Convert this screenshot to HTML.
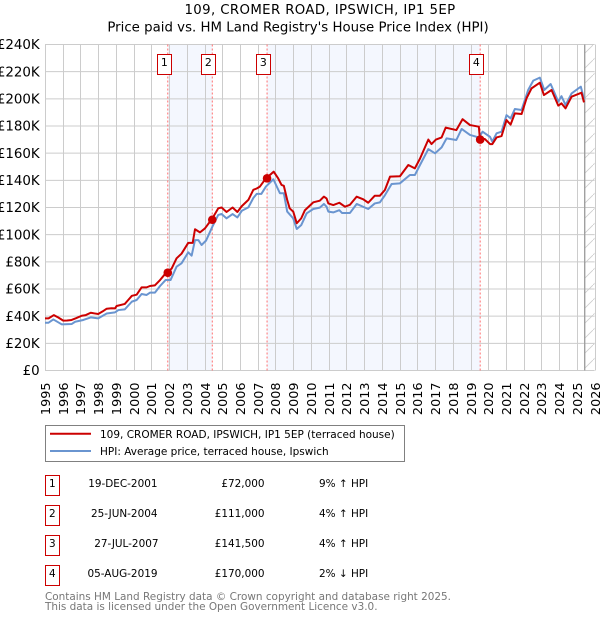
<!DOCTYPE html>
<html>
<head>
<meta charset="utf-8">
<style>
html,body{margin:0;padding:0;background:#fff;}
svg{display:block;font-family:"DejaVu Sans","Liberation Sans",sans-serif;}
</style>
</head>
<body>
<svg id="chart" xmlns="http://www.w3.org/2000/svg" width="600" height="620" viewBox="0 0 600 620">
<defs>
<pattern id="hatch" patternUnits="userSpaceOnUse" width="15" height="15" patternTransform="translate(8,0)">
<path d="M-1 16L16 -1" stroke="#cccccc" stroke-width="0.8" fill="none"/>
</pattern>
</defs>
<text x="320" y="14" text-anchor="middle" font-size="13.3" letter-spacing="0.38" fill="#000">109, CROMER ROAD, IPSWICH, IP1 5EP</text>
<text x="298" y="31.5" text-anchor="middle" font-size="13.3" letter-spacing="0.02" fill="#000">Price paid vs. HM Land Registry's House Price Index (HPI)</text>
<g id="plot"></g>
<g>
<rect x="45.5" y="425.5" width="359" height="36" fill="#fff" stroke="#808080" stroke-width="1"/>
<line x1="50" x2="91" y1="433.7" y2="433.7" stroke="#cc0000" stroke-width="2"/>
<text x="100" y="438" font-size="10.5" fill="#000">109, CROMER ROAD, IPSWICH, IP1 5EP (terraced house)</text>
<line x1="50" x2="91" y1="451" y2="451" stroke="#6a95d0" stroke-width="2"/>
<text x="100" y="455" font-size="10.5" fill="#000">HPI: Average price, terraced house, Ipswich</text>
</g>
<g font-size="10.45" fill="#000">
<g>
<rect x="45.5" y="475.5" width="14" height="20" fill="#fff" stroke="#cc0000" stroke-width="1"/>
<text x="52.3" y="487" text-anchor="middle">1</text>
<text x="157.5" y="487" text-anchor="end">19-DEC-2001</text>
<text x="264.5" y="487" text-anchor="end">£72,000</text>
<text x="319" y="487">9% ↑ HPI</text>
</g>
<g>
<rect x="45.5" y="505.5" width="14" height="20" fill="#fff" stroke="#cc0000" stroke-width="1"/>
<text x="52.3" y="517" text-anchor="middle">2</text>
<text x="157.5" y="517" text-anchor="end">25-JUN-2004</text>
<text x="264.5" y="517" text-anchor="end">£111,000</text>
<text x="319" y="517">4% ↑ HPI</text>
</g>
<g>
<rect x="45.5" y="535.5" width="14" height="20" fill="#fff" stroke="#cc0000" stroke-width="1"/>
<text x="52.3" y="547" text-anchor="middle">3</text>
<text x="158.5" y="547" text-anchor="end">27-JUL-2007</text>
<text x="264.5" y="547" text-anchor="end">£141,500</text>
<text x="319" y="547">4% ↑ HPI</text>
</g>
<g>
<rect x="45.5" y="565.5" width="14" height="20" fill="#fff" stroke="#cc0000" stroke-width="1"/>
<text x="52.3" y="577" text-anchor="middle">4</text>
<text x="157.5" y="577" text-anchor="end">05-AUG-2019</text>
<text x="264.5" y="577" text-anchor="end">£170,000</text>
<text x="319" y="577">2% ↓ HPI</text>
</g>
</g>
<text x="45" y="600" font-size="10.45" fill="#777777">Contains HM Land Registry data © Crown copyright and database right 2025.</text>
<text x="45" y="610" font-size="10.45" fill="#777777">This data is licensed under the Open Government Licence v3.0.</text>
</svg>
<script>
const yearTicks = [1995,1996,1997,1998,1999,2000,2001,2002,2003,2004,2005,2006,2007,2008,2009,2010,2011,2012,2013,2014,2015,2016,2017,2018,2019,2020,2021,2022,2023,2024,2025,2026];
const valueTicks = [0,20,40,60,80,100,120,140,160,180,200,220,240];
const saleYears = [2001.97,2004.48,2007.57,2019.59];
const saleValues = [72,111,141.5,170];
const saleLabels = ['1','2','3','4'];
const priceYears = [1995,1995.2,1995.5,1995.75,1996.03,1996.25,1996.5,1996.75,1997.07,1997.3,1997.58,1997.8,1998,1998.25,1998.48,1998.75,1998.95,1999.04,1999.5,1999.7,1999.9,2000.17,2000.45,2000.73,2000.92,2001.2,2001.49,2001.77,2001.92,2002.14,2002.42,2002.7,2003.08,2003.33,2003.46,2003.74,2004.02,2004.44,2004.77,2004.96,2005.24,2005.58,2005.85,2006.1,2006.47,2006.75,2006.94,2007.12,2007.46,2007.78,2007.9,2008.15,2008.34,2008.47,2008.66,2008.8,2009,2009.2,2009.45,2009.66,2010.13,2010.5,2010.73,2010.88,2010.98,2011.26,2011.6,2011.92,2012.2,2012.58,2012.95,2013.23,2013.6,2013.89,2014.17,2014.46,2015.02,2015.49,2015.86,2016.15,2016.62,2016.8,2017.05,2017.37,2017.6,2018.2,2018.55,2018.97,2019.47,2019.53,2019.81,2020.1,2020.23,2020.47,2020.75,2021.03,2021.26,2021.5,2021.88,2022.16,2022.44,2022.91,2023.14,2023.57,2023.95,2024.13,2024.36,2024.7,2025.26,2025.4];
const priceValues = [38.4,38.4,40.8,39,36.7,36.8,37.2,38.5,40.3,40.8,42.5,42,41.6,43.5,45.5,45.8,45.7,47.5,49,52,55,55.8,61.2,61.2,62.2,62.7,66.6,71,72.7,75,82.6,86,94,94,104,101.7,104.6,112,119.4,120,116.7,120,116.7,121,125.6,133,134,135.4,141.5,145,146.4,141.5,136.6,136,125.6,119.4,117,108.4,112,118,123.8,125,128,126.7,123,121.8,123.5,120.6,122,128,126,123.5,128.7,128.7,132.9,142.7,143,151.3,148.8,156,170,166.7,170,171.6,178.8,177,185,180.7,179.5,170.4,170.4,166.7,166.7,171.6,172.6,184.4,181,189.3,188.8,200.4,207.7,211.9,202.8,206.5,195,196.7,193,201.6,204.5,197.4];
const hpiYears = [1995,1995.2,1995.47,1995.94,1996.5,1996.7,1997.16,1997.58,1998,1998.48,1998.95,1999.14,1999.5,1999.9,2000.17,2000.45,2000.73,2000.92,2001.2,2001.49,2001.8,2002.08,2002.42,2002.7,2003.08,2003.27,2003.46,2003.65,2003.83,2004.08,2004.44,2004.77,2004.96,2005.24,2005.58,2005.85,2006.1,2006.47,2006.75,2006.94,2007.2,2007.46,2007.88,2008.25,2008.47,2008.66,2009,2009.2,2009.45,2009.76,2010.13,2010.5,2010.73,2010.88,2010.98,2011.26,2011.6,2011.75,2012.2,2012.58,2013.23,2013.6,2013.89,2014.17,2014.55,2015.02,2015.58,2015.86,2016.15,2016.62,2017,2017.37,2017.65,2018.2,2018.5,2018.97,2019.47,2019.68,2020.1,2020.23,2020.47,2020.75,2021.03,2021.26,2021.5,2021.88,2022.25,2022.54,2022.91,2023.16,2023.52,2023.95,2024.13,2024.36,2024.7,2025.22,2025.4];
const hpiValues = [35.2,35.2,37.6,34,34.2,35.9,37.2,39.1,38.4,42,42.8,44.5,45,50.7,51.9,56.3,55.6,57.3,57.3,62.2,66.6,66.6,76.4,78.9,87,84.5,96,96,92.4,95.6,105.9,114.5,115.2,112,115.2,112.7,117.6,120.1,127,130,130,135.4,140.8,130.5,130.5,117,112,104.2,107,115.7,118.9,119.9,122.6,120.6,117,116.4,118,116,116,122.6,118.9,123,123.8,129,137.3,137.8,143.9,143.9,151.3,163,159.9,164.3,170.9,169.7,177.8,173.4,171.6,175.8,172,168.5,174.6,175.8,188,185.6,192.5,191.8,206.5,213.4,215.6,206.5,210.9,197.9,202,195.4,204,209,200];

const NS = 'http://www.w3.org/2000/svg';
const plot = document.getElementById('plot');
const xLeft = 45, pxPerYear = 17.73, yZero = 370.5, pxPerK = 1.3583;
const markOffset = -0.8;
const lastDataYear = 2025.44;
function xAxis(year) { return xLeft + (year - 1995) * pxPerYear; }
function yAxis(value) { return yZero - value * pxPerK; }
function make(tag, attrs, text) {
  const el = document.createElementNS(NS, tag);
  for (const k in attrs) el.setAttribute(k, attrs[k]);
  if (text !== undefined) el.textContent = text;
  plot.appendChild(el);
  return el;
}
function linePath(xs, ys) {
  return xs.map(function (yr, i) { return (i ? 'L' : 'M') + xAxis(yr).toFixed(2) + ' ' + yAxis(ys[i]).toFixed(2); }).join('');
}

// alternating shaded spans between sales
[[0, 1], [2, 3]].forEach(function (pair, i) {
  const x0 = xAxis(saleYears[pair[0]]) + markOffset;
  const x1 = xAxis(saleYears[pair[1]]) + markOffset;
  const band = make('rect', { x: x0, y: yAxis(240), width: x1 - x0, height: yAxis(0) - yAxis(240), fill: '#f4f7fe' });
  
  
});

// forecast hatch
const hatchX = xAxis(lastDataYear);
const hatchRect = make('rect', { x: hatchX, y: yAxis(240), width: xAxis(2026) - hatchX, height: yAxis(0) - yAxis(240), fill: 'url(#hatch)' });



// grid and tick labels
valueTicks.forEach(function (v) {
  const g = make('line', { x1: xLeft, x2: xAxis(2026), y1: yAxis(v), y2: yAxis(v), stroke: '#cccccc', 'stroke-width': 1 });
  
  
  const t = make('text', { x: 39.7, y: yAxis(v) + 4.7, 'text-anchor': 'end', 'font-size': 13.4, fill: '#000' }, v === 0 ? '£0' : '£' + v + 'K');
  
  
});
yearTicks.forEach(function (yr) {
  const px = Math.round(xAxis(yr)) + 0.5;
  const g = make('line', { x1: px, x2: px, y1: yAxis(240), y2: yAxis(0), stroke: '#cccccc', 'stroke-width': 1 });
  
  
  const t = make('text', { transform: 'translate(' + (px + 4.5) + ',382.5) rotate(-90)', 'text-anchor': 'end', 'font-size': 12.8, fill: '#000' }, String(yr));
  
  
});

// last data divider
const divider = make('line', { x1: hatchX, x2: hatchX, y1: yAxis(240), y2: yAxis(0), stroke: '#a0a0a0', 'stroke-width': 1.4 });



// sale guide lines
saleYears.forEach(function (yr) {
  const px = xAxis(yr) + markOffset;
  const d = make('line', { x1: px, x2: px, y1: yAxis(240), y2: yAxis(0), stroke: '#ff6f6f', 'stroke-width': 1, 'stroke-dasharray': '2 2' });
  
  
});

// series
const hpiLine = make('path', { d: linePath(hpiYears, hpiValues), fill: 'none', stroke: '#6a95d0', 'stroke-width': 2, 'stroke-linejoin': 'round' });


const priceLine = make('path', { d: linePath(priceYears, priceValues), fill: 'none', stroke: '#cc0000', 'stroke-width': 2, 'stroke-linejoin': 'round' });



// sale markers and badges
saleYears.forEach(function (yr, i) {
  const px = xAxis(yr) + markOffset;
  const c = make('circle', { cx: px, cy: yAxis(saleValues[i]), r: 4.3, fill: '#cc0000' });
  
  
  const b = make('rect', { x: Math.round(px) - 10.5, y: 54.5, width: 14, height: 20, fill: '#fff', stroke: '#cc0000', 'stroke-width': 1 });
  
  
  const t = make('text', { x: Math.round(px) - 3.7, y: 66, 'text-anchor': 'middle', 'font-size': 10.9, fill: '#000' }, saleLabels[i]);
  
  
});
</script>
</body>
</html>
